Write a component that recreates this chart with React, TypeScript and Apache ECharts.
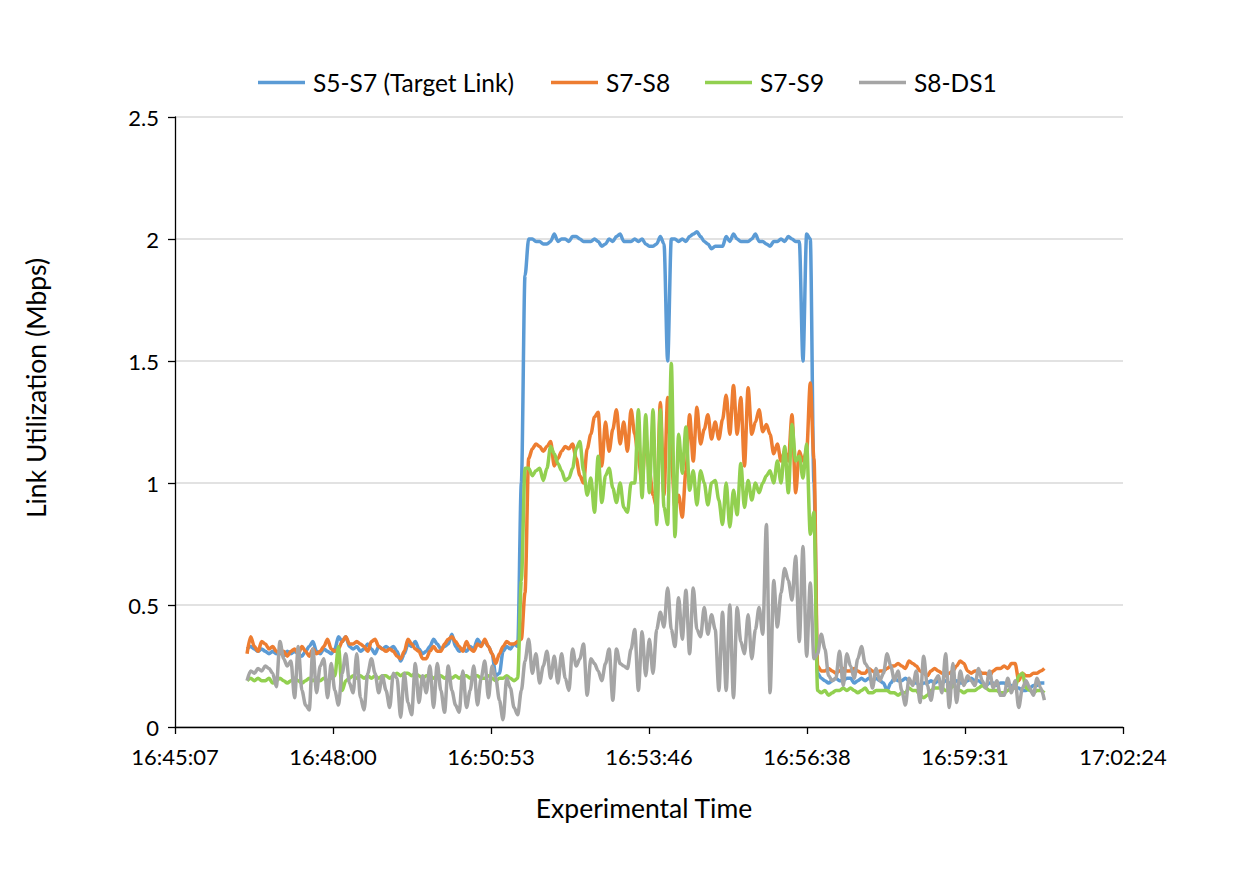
import React, { useEffect, useRef } from "react";
import * as echarts from "echarts";

// Time stamps: seconds of day, first sample 16:46:26, one sample every 4 s
const START_SEC = 60386;
const STEP_SEC = 4;

// Axis in units of 0.001 day (86.4 s)
const X_MIN = 698; // 16:45:07
const X_MAX = 710; // 17:02:24
const X_INTERVAL = 2;

const seriesNames = ["S5-S7 (Target Link)", "S7-S8", "S7-S9", "S8-DS1"];
const seriesColors = ["#5B9BD5", "#ED7D31", "#92D050", "#A5A5A5"];

const s5s7 = [
  0.32,0.33,0.32,0.31,0.32,0.31,0.30,0.31,0.30,0.31,
  0.29,0.31,0.30,0.31,0.30,0.29,0.31,0.33,0.35,0.31,
  0.30,0.32,0.31,0.30,0.32,0.37,0.35,0.37,0.33,0.32,
  0.33,0.31,0.32,0.34,0.32,0.30,0.33,0.32,0.33,0.32,
  0.33,0.31,0.27,0.30,0.34,0.33,0.35,0.32,0.30,0.31,
  0.33,0.36,0.34,0.32,0.33,0.34,0.38,0.33,0.31,0.32,
  0.31,0.33,0.32,0.36,0.34,0.35,0.33,0.30,0.21,0.22,
  0.31,0.33,0.32,0.34,0.33,
  1.00,1.85,2.00,2.00,1.99,1.99,1.98,1.98,1.99,2.02,
  1.99,2.00,2.00,1.99,2.01,2.01,2.00,1.99,1.99,1.99,
  2.00,1.99,1.97,1.98,2.00,1.99,2.01,2.02,1.99,1.99,
  1.99,2.00,1.99,2.00,1.98,1.97,1.97,1.98,2.01,1.98,
  1.50,2.00,2.00,1.99,2.00,1.99,2.01,2.02,2.03,2.01,
  1.99,1.98,1.96,1.97,1.97,1.97,2.01,1.99,2.02,2.00,
  1.99,1.99,1.99,2.00,2.02,1.99,1.99,1.98,1.97,1.99,
  1.99,2.00,1.99,2.01,2.00,1.99,1.99,1.50,2.02,2.00,
  1.00,
  0.22,0.20,0.19,0.18,0.19,0.20,0.19,0.19,0.20,0.20,
  0.18,0.19,0.20,0.19,0.20,0.19,0.20,0.19,0.18,0.15,
  0.18,0.20,0.19,0.19,0.20,0.19,0.18,0.18,0.17,0.18,
  0.18,0.19,0.18,0.19,0.18,0.19,0.18,0.18,0.19,0.18,
  0.18,0.19,0.20,0.19,0.19,0.18,0.17,0.18,0.18,0.17,
  0.18,0.18,0.17,0.17,0.16,0.16,0.15,0.15,0.16,0.17,
  0.17,0.18,0.18,
];

const s7s8 = [
  0.30,0.37,0.33,0.31,0.35,0.34,0.32,0.33,0.31,0.30,
  0.31,0.29,0.31,0.32,0.30,0.33,0.31,0.29,0.32,0.30,
  0.31,0.33,0.36,0.32,0.31,0.32,0.35,0.37,0.34,0.34,
  0.35,0.34,0.33,0.31,0.35,0.36,0.33,0.32,0.31,0.32,
  0.31,0.29,0.28,0.31,0.36,0.34,0.32,0.31,0.28,0.28,
  0.31,0.33,0.31,0.31,0.34,0.36,0.37,0.35,0.33,0.31,
  0.35,0.32,0.31,0.34,0.33,0.36,0.33,0.30,0.26,0.30,
  0.33,0.35,0.34,0.34,0.35,
  0.36,0.55,1.10,1.14,1.16,1.15,1.13,1.15,1.17,1.07,
  1.10,1.13,1.15,1.14,1.16,1.10,1.03,1.00,1.14,1.20,
  1.27,1.29,1.07,1.25,1.13,1.22,1.30,1.16,1.25,1.13,
  1.30,1.20,1.10,1.00,1.19,1.05,0.95,0.90,1.33,0.95,
  1.35,1.10,0.90,0.95,0.86,1.05,1.28,1.09,1.31,1.16,
  1.22,1.28,1.18,1.25,1.18,1.26,1.36,1.20,1.40,1.20,
  1.35,1.07,1.39,1.20,1.25,1.30,1.21,1.24,1.20,1.12,
  1.16,1.09,1.13,1.09,1.28,0.96,1.13,1.09,1.13,1.41,
  1.10,
  0.25,0.23,0.23,0.24,0.23,0.22,0.23,0.24,0.23,0.23,
  0.24,0.23,0.22,0.22,0.24,0.23,0.22,0.23,0.23,0.24,
  0.25,0.25,0.26,0.25,0.24,0.27,0.26,0.25,0.23,0.22,
  0.21,0.23,0.24,0.23,0.22,0.21,0.22,0.23,0.25,0.27,
  0.26,0.23,0.22,0.23,0.23,0.22,0.22,0.21,0.23,0.24,
  0.24,0.25,0.24,0.26,0.26,0.19,0.22,0.21,0.21,0.22,
  0.22,0.23,0.24,
];

const s7s9 = [
  0.19,0.20,0.19,0.20,0.19,0.19,0.20,0.18,0.19,0.20,
  0.19,0.18,0.19,0.20,0.19,0.18,0.19,0.20,0.19,0.20,
  0.19,0.20,0.19,0.20,0.21,0.33,0.15,0.19,0.20,0.21,
  0.20,0.21,0.20,0.21,0.20,0.21,0.20,0.21,0.21,0.20,
  0.21,0.22,0.21,0.22,0.22,0.21,0.22,0.21,0.20,0.21,
  0.21,0.20,0.21,0.21,0.20,0.21,0.20,0.21,0.20,0.21,
  0.21,0.20,0.21,0.21,0.20,0.20,0.21,0.20,0.19,0.20,
  0.20,0.21,0.20,0.19,0.20,
  0.60,1.06,1.06,1.03,1.05,1.06,1.01,1.06,1.15,1.12,
  1.08,1.05,1.01,1.02,1.06,1.14,1.17,1.05,0.95,1.02,
  0.88,1.11,0.92,1.03,1.06,0.98,0.92,1.00,0.90,0.88,
  1.00,1.00,1.30,0.94,1.28,0.96,1.30,0.83,1.30,0.90,
  0.83,1.49,0.78,1.20,1.04,1.23,0.97,1.05,0.91,1.05,
  1.00,0.91,1.00,1.01,0.93,0.83,1.00,0.82,0.97,0.87,
  1.08,0.90,1.01,0.93,1.00,0.96,1.00,1.03,1.05,1.00,
  1.09,1.00,1.15,0.96,1.24,1.09,1.11,1.02,1.16,0.79,
  0.88,
  0.15,0.14,0.15,0.13,0.14,0.15,0.15,0.16,0.15,0.16,
  0.15,0.14,0.15,0.16,0.14,0.14,0.15,0.15,0.15,0.15,
  0.14,0.14,0.13,0.14,0.14,0.16,0.15,0.15,0.13,0.12,
  0.13,0.15,0.16,0.16,0.16,0.15,0.15,0.17,0.16,0.15,
  0.14,0.15,0.15,0.15,0.16,0.17,0.16,0.15,0.15,0.15,
  0.14,0.14,0.15,0.16,0.16,0.21,0.22,0.16,0.15,0.14,
  0.15,0.15,0.14,
];

const s8ds1 = [
  0.19,0.23,0.22,0.24,0.23,0.25,0.24,0.22,0.165,0.35,
  0.28,0.25,0.27,0.12,0.33,0.15,0.09,0.07,0.32,0.14,
  0.25,0.28,0.12,0.26,0.15,0.09,0.22,0.30,0.18,0.14,
  0.30,0.12,0.07,0.22,0.28,0.22,0.14,0.21,0.15,0.08,
  0.22,0.20,0.04,0.22,0.10,0.05,0.26,0.10,0.21,0.14,
  0.25,0.08,0.26,0.15,0.06,0.25,0.15,0.09,0.06,0.23,
  0.08,0.15,0.25,0.09,0.20,0.27,0.12,0.25,0.20,0.11,
  0.03,0.20,0.16,0.08,0.05,
  0.15,0.27,0.36,0.22,0.30,0.18,0.25,0.31,0.20,0.29,
  0.18,0.30,0.20,0.15,0.32,0.25,0.28,0.34,0.13,0.28,
  0.26,0.23,0.19,0.26,0.32,0.11,0.32,0.26,0.25,0.24,
  0.32,0.40,0.15,0.39,0.21,0.36,0.22,0.40,0.47,0.41,
  0.57,0.40,0.33,0.53,0.36,0.56,0.30,0.57,0.40,0.37,
  0.49,0.38,0.46,0.40,0.15,0.47,0.15,0.50,0.12,0.49,
  0.35,0.30,0.46,0.28,0.40,0.49,0.38,0.83,0.14,0.60,
  0.41,0.55,0.65,0.60,0.52,0.70,0.35,0.74,0.29,0.59,
  0.28,
  0.30,0.38,0.32,0.21,0.19,0.20,0.31,0.17,0.30,0.25,
  0.20,0.28,0.33,0.26,0.24,0.16,0.24,0.19,0.22,0.30,
  0.25,0.19,0.23,0.15,0.09,0.20,0.17,0.23,0.10,0.29,
  0.17,0.11,0.19,0.21,0.14,0.30,0.08,0.26,0.10,0.23,
  0.17,0.21,0.19,0.17,0.24,0.19,0.16,0.23,0.16,0.19,
  0.13,0.13,0.20,0.14,0.19,0.08,0.16,0.19,0.16,0.13,
  0.20,0.16,0.11,
];

const seriesValues = [s5s7, s7s8, s7s9, s8ds1];

const FONT = "Lato, 'Open Sans', sans-serif";
const TICK_FONT_SIZE = 22;
const LEGEND_FONT_SIZE = 24.5;
const TITLE_FONT_SIZE = 26.5;

const pad = (n: number) => (n < 10 ? "0" + n : String(n));
const fmtTime = (v: number) => {
  const s = Math.round(v * 86.4);
  const h = Math.floor(s / 3600);
  const m = Math.floor((s % 3600) / 60);
  const sec = s % 60;
  return `${h}:${pad(m)}:${pad(sec)}`;
};

export default function App() {
  const ref = useRef<HTMLDivElement>(null);
  useEffect(() => {
    if (!ref.current) return;
    const chart = echarts.init(ref.current, null, { renderer: "svg" });
    const legendLefts = [258, 551, 705, 859];
    const option: any = {
      animation: false,
      backgroundColor: "#ffffff",
      textStyle: { fontFamily: FONT },
      grid: { left: 175, right: 118, top: 117, bottom: 147, containLabel: false },
      legend: seriesNames.map((name, k) => ({
        data: [name],
        left: legendLefts[k],
        top: 70,
        padding: 0,
        icon: "rect",
        itemWidth: 47,
        itemHeight: 3.5,
        textStyle: {
          fontFamily: FONT,
          fontSize: LEGEND_FONT_SIZE,
          color: "#000",
          padding: [0, 0, 0, 3],
        },
      })),
      xAxis: {
        type: "value",
        min: X_MIN,
        max: X_MAX,
        interval: X_INTERVAL,
        axisLine: { show: true, onZero: false, lineStyle: { color: "#000", width: 1.3 } },
        axisTick: { show: true, length: 7, lineStyle: { color: "#000", width: 1.3 } },
        axisLabel: {
          formatter: fmtTime,
          fontFamily: FONT,
          fontSize: TICK_FONT_SIZE,
          color: "#000",
          margin: 18,
        },
        splitLine: { show: false },
      },
      yAxis: {
        type: "value",
        min: 0,
        max: 2.5,
        interval: 0.5,
        axisLine: { show: true, lineStyle: { color: "#000", width: 1.3 } },
        axisTick: { show: true, length: 7, lineStyle: { color: "#000", width: 1.3 } },
        axisLabel: { fontFamily: FONT, fontSize: TICK_FONT_SIZE, color: "#000", margin: 16 },
        splitLine: { show: true, lineStyle: { color: "#D9D9D9", width: 1.5 } },
      },
      graphic: [
        {
          type: "text",
          x: 36,
          y: 388,
          rotation: Math.PI / 2,
          style: {
            text: "Link Utilization (Mbps)",
            fontFamily: FONT,
            fontSize: TITLE_FONT_SIZE,
            fill: "#000",
            textAlign: "center",
            textVerticalAlign: "middle",
          },
        },
        {
          type: "text",
          x: 644,
          y: 808,
          style: {
            text: "Experimental Time",
            fontFamily: FONT,
            fontSize: TITLE_FONT_SIZE,
            fill: "#000",
            textAlign: "center",
            textVerticalAlign: "middle",
          },
        },
      ],
      series: seriesNames.map((name, k) => ({
        name,
        type: "line",
        data: seriesValues[k].map((v, i) => [(START_SEC + i * STEP_SEC) / 86.4, v]),
        showSymbol: false,
        symbol: "none",
        smooth: 0.3,
        smoothMonotone: "x",
        color: seriesColors[k],
        itemStyle: { color: seriesColors[k] },
        lineStyle: { color: seriesColors[k], width: 3.5 },
        z: 2 + k,
      })),
    };
    chart.setOption(option);
    return () => chart.dispose();
  }, []);
  return (
    <div
      ref={ref}
      style={{ position: "absolute", left: 0, top: 0, width: 1241, height: 874, background: "#fff" }}
    />
  );
}
